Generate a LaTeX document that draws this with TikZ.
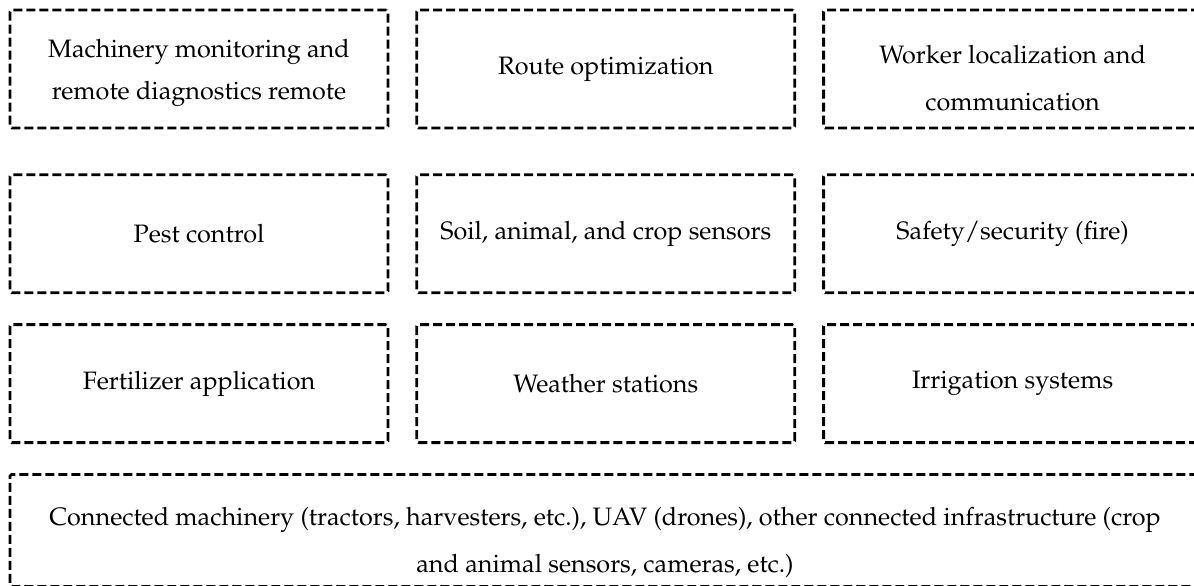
\documentclass[tikz,border=0pt]{standalone}
\usepackage[T1]{fontenc}
\usepackage{mathpazo}
\usepackage{tikz}
\usetikzlibrary{positioning}

\begin{document}
\begin{tikzpicture}[node distance=13pt,
	task/.style={draw, line width=1.4pt, dash pattern=on 4.5pt off 2pt, rounded corners=0.8pt,
		minimum width=189pt, minimum height=59pt, inner sep=0pt, align=center,
		font=\fontsize{12.6}{21}\selectfont},
	wide/.style={font=\fontsize{12.6}{23.5}\selectfont},
	base/.style={task, wide, minimum width=595pt, minimum height=56pt}]
	\useasboundingbox (0,0) rectangle (597pt,-292.5pt);

	\node[task] (mon) at (99.5pt,-34.5pt) {\rule{0pt}{13pt}Machinery monitoring and\\remote diagnostics remote};
	\node[task] (route) [right=of mon] {Route optimization};
	\node[task,wide] (worker) [right=of route] {\rule{0pt}{18pt}Worker localization and\\communication};

	\node[task] (pest) [below=22pt of mon] {Pest control};
	\node[task] (sensor) [right=of pest] {Soil, animal, and crop sensors};
	\node[task] (safety) [right=of sensor] {Safety/security (fire)};

	\node[task] (fert) [below=14.5pt of pest] {Fertilizer application};
	\node[task] (weather) [right=of fert] {Weather stations};
	\node[task] (irrig) [right=of weather] {Irrigation systems};

	\node[base] (infra) [below=14.5pt of fert.south west, anchor=north west]
		{\rule{0pt}{21pt}Connected machinery (tractors, harvesters, etc.), UAV (drones), other connected infrastructure (crop\\and animal sensors, cameras, etc.)};
\end{tikzpicture}
\end{document}
